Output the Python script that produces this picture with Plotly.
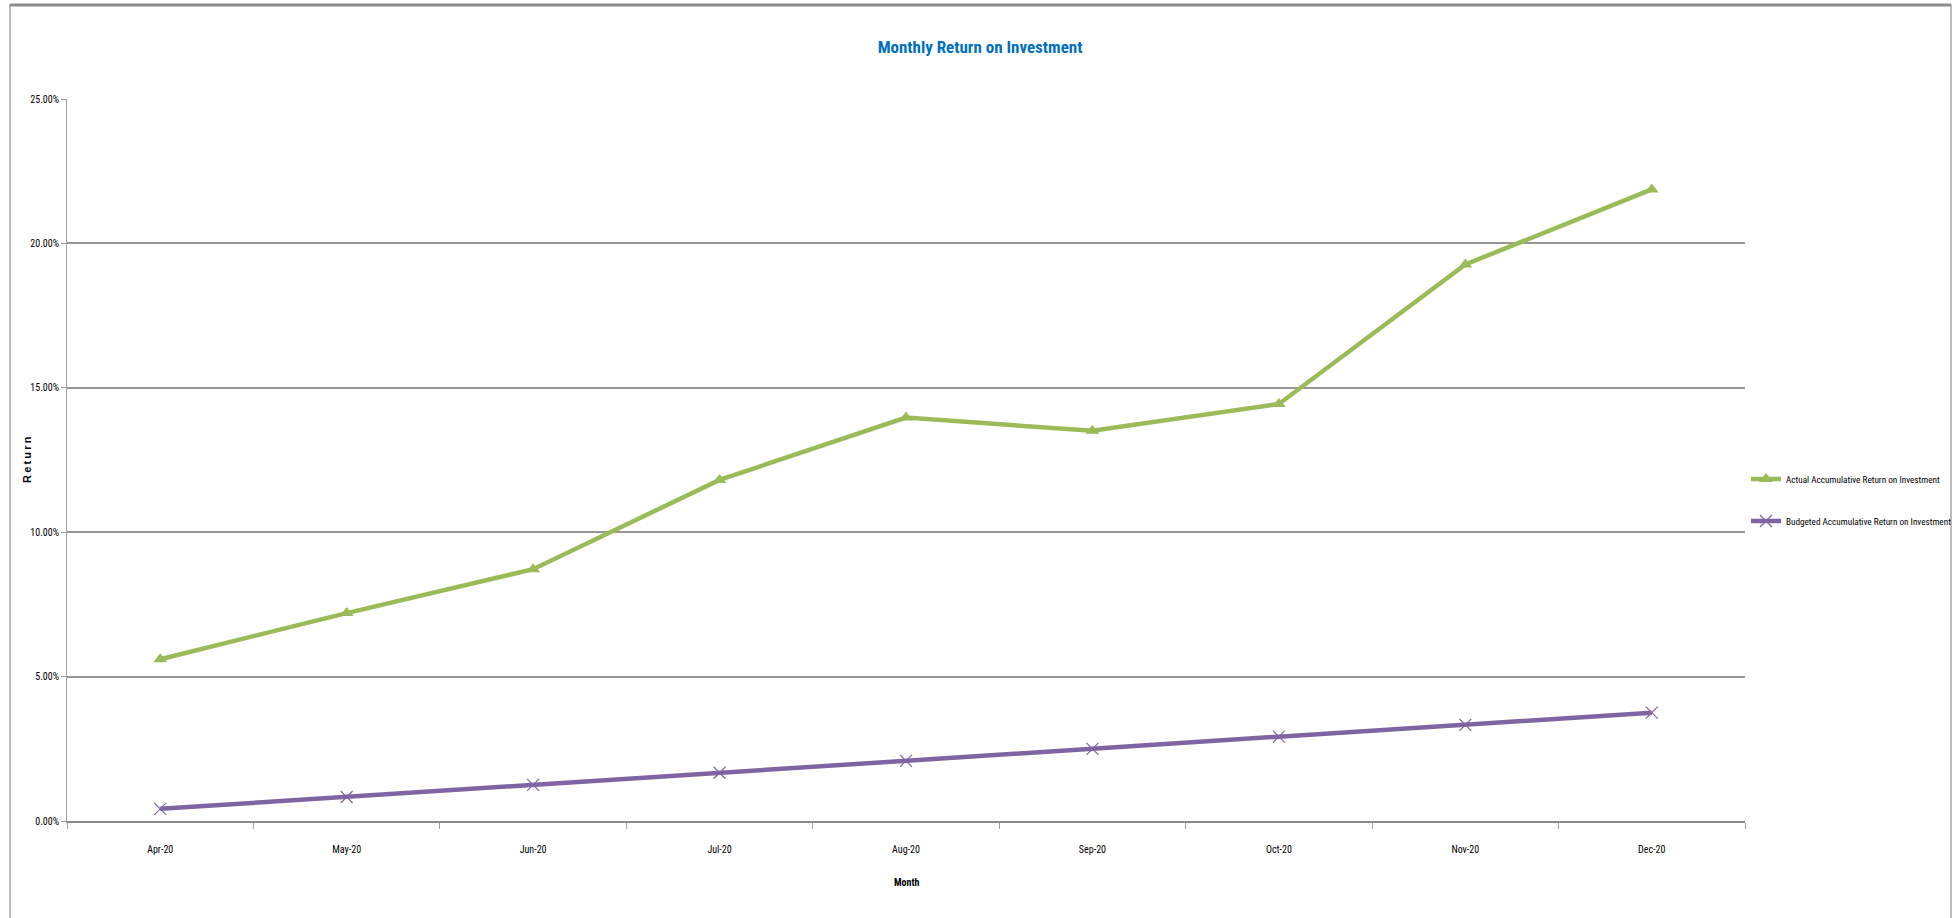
import plotly.graph_objects as go

months = ["Apr-20", "May-20", "Jun-20", "Jul-20", "Aug-20", "Sep-20", "Oct-20", "Nov-20", "Dec-20"]
actual = [0.0560, 0.0720, 0.0872, 0.1181, 0.1397, 0.1351, 0.1444, 0.1927, 0.2187]
budgeted = [0.0042, 0.0083, 0.0125, 0.0167, 0.0208, 0.0250, 0.0292, 0.0333, 0.0375]

FONT = "Liberation Sans Narrow, Roboto Condensed, Arial Narrow, Roboto, sans-serif"
W, H = 1957, 918
L, R, T, B = 67, 212, 99, 97
pw, ph = W - L - R, H - T - B

def px_x(p):
    return (p - L) / pw

def px_y(p):
    return (H - B - p) / ph

fig = go.Figure()
fig.add_trace(go.Scatter(
    x=months, y=actual, mode="lines+markers",
    name="Actual Accumulative Return on Investment", legendgroup="a",
    line=dict(color="#9BBB59", width=4.5),
    marker=dict(symbol="triangle-up", size=12, color="#9BBB59"),
))
fig.add_trace(go.Scatter(
    x=months, y=budgeted, mode="lines+markers",
    name="Budgeted Accumulative Return on Investment", legendgroup="b",
    line=dict(color="#8064A2", width=4.5),
    marker=dict(symbol="x-thin-open", size=12, line=dict(color="#8064A2", width=1.2)),
))

fig.update_layout(
    width=W, height=H,
    margin=dict(l=L, r=R, t=T, b=B, autoexpand=False),
    paper_bgcolor="white", plot_bgcolor="white",
    font=dict(family=FONT, size=10, color="black"),
    title=dict(text="<b>Monthly Return on Investment</b>", x=px_x(980), xref="paper", xanchor="center",
               y=1 - 47 / H, yanchor="middle",
               font=dict(family=FONT, size=17, color="#0070C0")),
    showlegend=True,
    legend=dict(x=px_x(1746), y=px_y(500), xanchor="left", yanchor="middle",
                font=dict(family=FONT, size=9.2, color="black"),
                traceorder="grouped", tracegroupgap=23, itemwidth=30,
                bgcolor="rgba(0,0,0,0)"),
    xaxis=dict(
        type="category", range=[-0.5, 8.5], tickson="boundaries", automargin=False,
        ticks="outside", ticklen=6, tickcolor="#A0A0A0",
        showgrid=False, showline=True, linecolor="#8C8C8C", linewidth=2,
        tickfont=dict(family=FONT, size=10), ticklabelstandoff=18,
    ),
    yaxis=dict(
        range=[0, 0.25], dtick=0.05, tickformat=".2%", automargin=False,
        ticks="outside", ticklen=5, tickcolor="#A0A0A0",
        showgrid=True, gridcolor="#969696", gridwidth=2,
        showline=True, linecolor="#A0A0A0", linewidth=1,
        zeroline=False,
        tickfont=dict(family=FONT, size=10),
    ),
    annotations=[
        dict(text="<b>Month</b>", xref="paper", yref="paper", x=px_x(907), y=px_y(882),
             xanchor="center", yanchor="middle", showarrow=False,
             font=dict(family=FONT, size=10, color="black")),
        dict(text="<b>R\u2009e\u2009t\u2009u\u2009r\u2009n</b>", xref="paper", yref="paper",
             x=px_x(27), y=px_y(460), xanchor="center", yanchor="middle", showarrow=False,
             textangle=-90, font=dict(family="Liberation Sans, Arial, sans-serif", size=11, color="black")),
    ],
    shapes=[
        dict(type="rect", xref="paper", yref="paper",
             x0=px_x(10), x1=px_x(1951), y0=px_y(930), y1=px_y(5),
             line=dict(color="#A6A6A6", width=1.5), layer="below"),
        dict(type="line", xref="paper", yref="paper",
             x0=px_x(10), x1=px_x(1951), y0=px_y(5), y1=px_y(5),
             line=dict(color="#8C8C8C", width=3)),
    ],
)

fig.write_html("out.html")
